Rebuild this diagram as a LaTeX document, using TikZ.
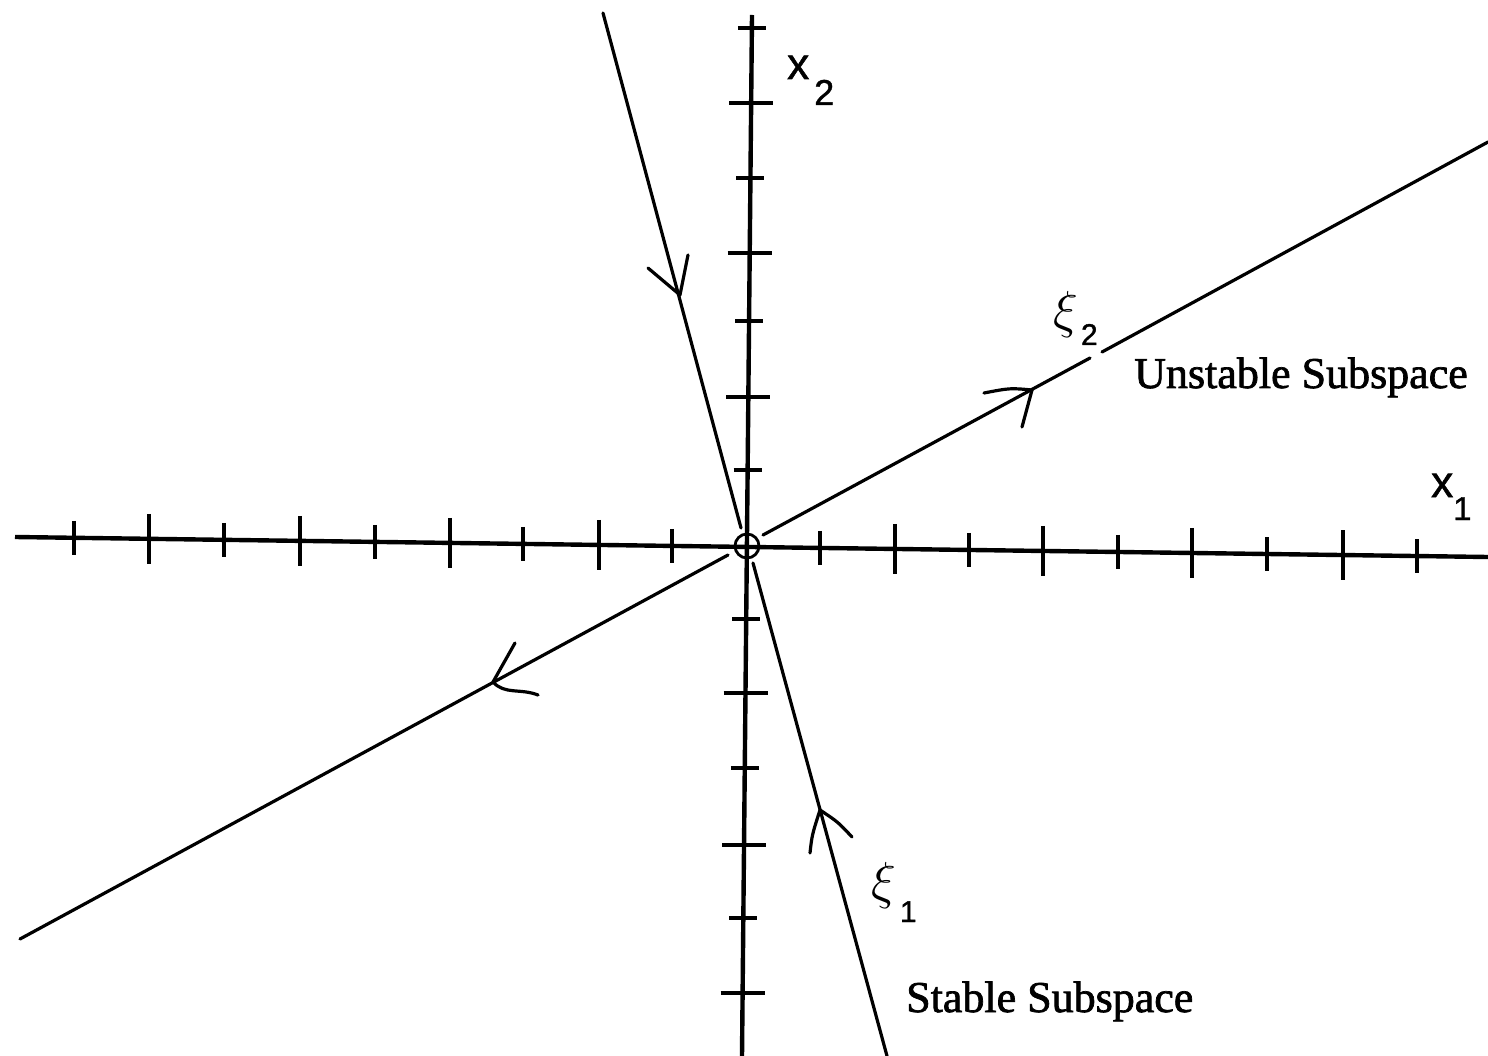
\RequirePackage{fix-cm}
\documentclass[tikz,border=0pt]{standalone}
\usepackage{fontspec}
\newfontfamily\lblserif[FakeBold=1.6]{Liberation Serif}
\newfontfamily\lblsans[FakeBold=1.2]{Liberation Sans}
\begin{document}
\begin{tikzpicture}[x=1pt,y=-1pt,
  axisline/.style={line width=4.4pt},
  subline/.style={line width=3.2pt, line cap=round},
  tickmark/.style={line width=4pt},
  headline/.style={line width=3.2pt, line cap=round, line join=round},
  lbl/.style={anchor=base west, inner sep=0pt}]
\useasboundingbox (0,0) rectangle (1488,1056);
\fill[white] (0,0) rectangle (1488,1056);

% axes
\coordinate (xl) at (15,537);
\coordinate (xr) at (1488,557);
\coordinate (yt) at (752,15);
\coordinate (yb) at (742,1056);
\coordinate (O) at (747,546);
\draw[axisline] (xl) -- (xr);
\draw[axisline] (yt) -- (yb);

% x-axis ticks
\foreach \xx in {149,300,450,599,895,1043,1192,1343}
  \draw[tickmark] (\xx,{537+0.01358*(\xx-15)-25}) -- ++(0,50);
\foreach \xx in {74,224,375,523,672,820,969,1118,1267,1417}
  \draw[tickmark] (\xx,{537+0.01358*(\xx-15)-17}) -- ++(0,34);

% y-axis ticks
\foreach \yy in {103,253,397,693,845,993}
  \draw[tickmark] ({752-0.0096*(\yy-15)-22},\yy) -- ++(44,0);
\foreach \yy in {28,178,321,470,619,768,918}
  \draw[tickmark] ({752-0.0096*(\yy-15)-14},\yy) -- ++(28,0);

% origin
\draw[line width=2.8pt] (O) circle[radius=12];

% stable subspace
\coordinate (s1) at (603,13);
\coordinate (s2) at (741,528);
\coordinate (s3) at (753,563);
\coordinate (s4) at (887,1056);
\draw[subline] (s1) -- (s2);
\draw[subline] (s3) -- (s4);

% unstable subspace
\coordinate (u1) at (20,939);
\coordinate (u2) at (728,555);
\coordinate (u3) at (763,535);
\coordinate (u4) at (1090,358);
\coordinate (u5) at (1102,352);
\coordinate (u6) at (1488,142);
\draw[subline] (u1) -- (u2);
\draw[subline] (u3) -- (u4);
\draw[subline] (u5) -- (u6);

% arrowheads
\coordinate (sa) at (680,295);
\coordinate (sa1) at (648,268);
\coordinate (sa2) at (688,255);
\draw[headline] (sa1) -- (sa) -- (sa2);

\coordinate (sb) at (820,810);
\coordinate (sb1) at (810,853);
\coordinate (sb2) at (852,837);
\draw[headline] (sb1) .. controls (812,835) .. (sb);
\draw[headline] (sb) .. controls (838,822) .. (sb2);

\coordinate (ua) at (1032,390);
\coordinate (ua1) at (984,393);
\coordinate (ua2) at (1022,427);
\draw[headline] (ua1) .. controls (1010,388) .. (ua);
\draw[headline] (ua) -- (ua2);

\coordinate (ub) at (493,682);
\coordinate (ub1) at (515,643);
\coordinate (ub2) at (538,695);
\draw[headline] (ub1) -- (ub);
\draw[headline] (ub) .. controls (505,695) and (520,688) .. (ub2);

% labels
\node[lbl] (x2lab) at (787,79) {\lblsans\fontsize{44}{44}\selectfont x\kern5pt\raisebox{-26pt}{\fontsize{36}{36}\selectfont 2}};
\node[lbl] (x1lab) at (1431,497) {\lblsans\fontsize{44}{44}\selectfont x\raisebox{-23pt}{\fontsize{33}{33}\selectfont 1}};
\node[lbl] (xi2lab) at (1053,328) {\fontsize{52}{52}\selectfont$\xi$\kern3pt\lblsans\raisebox{-17pt}{\fontsize{30}{30}\selectfont 2}};
\node[lbl] (xi1lab) at (871,898) {\fontsize{52}{52}\selectfont$\xi$\kern4pt\lblsans\raisebox{-24pt}{\fontsize{30}{30}\selectfont 1}};
\node[lbl] (unst) at (1134,388) {\lblserif\fontsize{44}{44}\selectfont Unstable Subspace};
\node[lbl] (stab) at (906,1012) {\lblserif\fontsize{44}{44}\selectfont Stable Subspace};
\end{tikzpicture}
\end{document}
